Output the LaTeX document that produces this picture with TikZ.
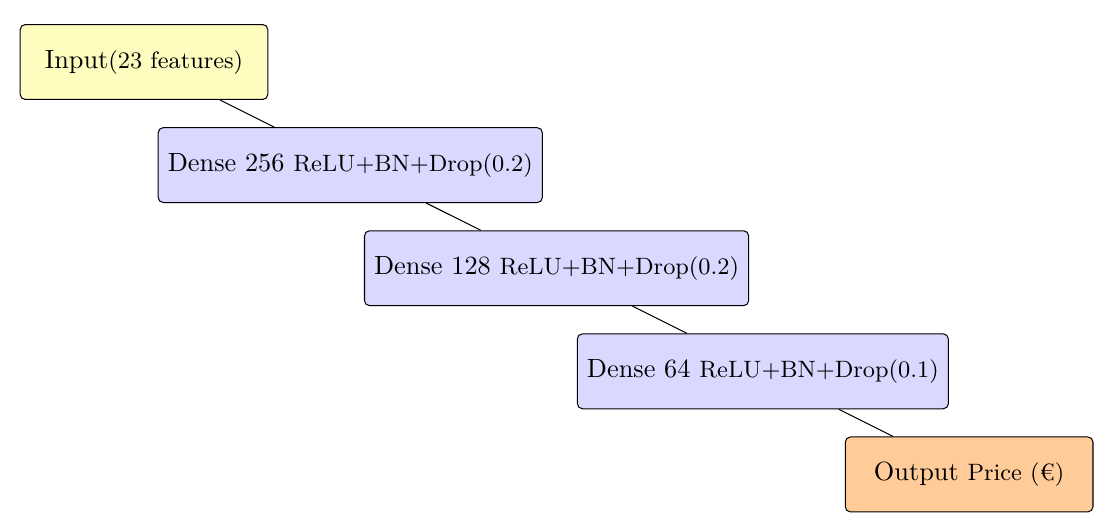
\documentclass[tikz,border=0pt]{standalone}
\usepackage{tikz}
\usetikzlibrary{calc}
\newcommand{\laytxt}{\fontsize{10.4}{12.5}\selectfont}
\newcommand{\subtxt}{\fontsize{9.36}{11.2}\selectfont}

\begin{document}
\begin{tikzpicture}[
    layer/.style={draw,rounded corners=2pt,inner sep=3.8pt,minimum height=1.04cm,font=\laytxt},
    inlayer/.style={layer,fill=yellow!25,minimum width=3.44cm},
    hidlayer/.style={layer,fill=blue!15},
    outlayer/.style={layer,fill=orange!40,minimum width=3.44cm}]
  \useasboundingbox (0,0) rectangle (15.458,-7.306);
  % Input
  \node[inlayer] (in) at (2.0,-0.861) {Input{\subtxt(23 features)}};
  % Hidden layers
  \node[hidlayer] (d256) at (4.865,-2.293) {Dense 256 {\subtxt ReLU+BN+Drop(0.2)}};
  \node[hidlayer] (d128) at (7.73,-3.725) {Dense 128 {\subtxt ReLU+BN+Drop(0.2)}};
  \node[hidlayer] (d64) at (10.595,-5.157) {Dense 64 {\subtxt ReLU+BN+Drop(0.1)}};
  % Output
  \node[outlayer] (out) at (13.46,-6.589) {Output {\subtxt Price (€)}};
  % Connections
  \draw (in) -- (d256);
  \draw (d256) -- (d128);
  \draw (d128) -- (d64);
  \draw (d64) -- (out);
\end{tikzpicture}
\end{document}
